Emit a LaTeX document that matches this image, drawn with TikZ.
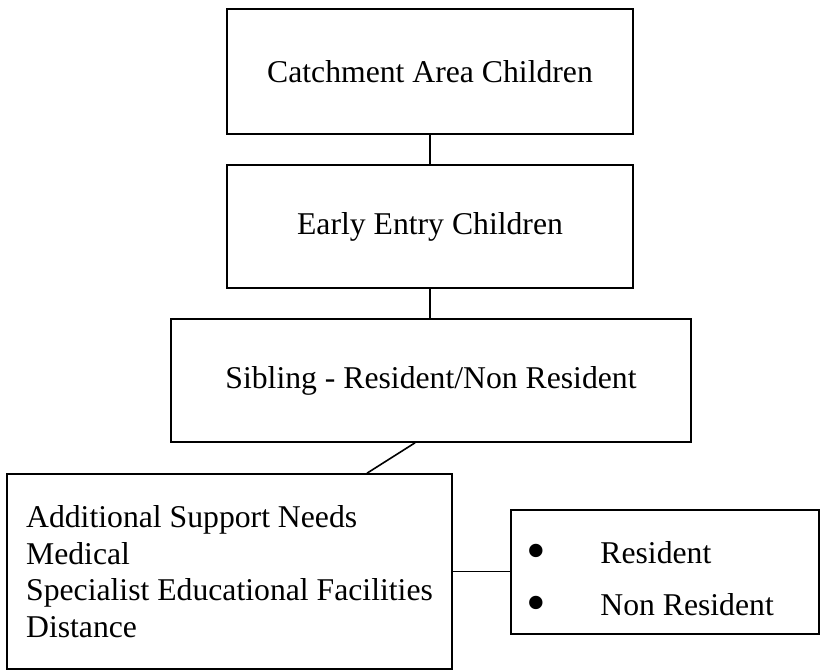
\documentclass[tikz,border=0pt]{standalone}
\usepackage{fontspec}
\setmainfont{Liberation Serif}
\tikzset{
  box/.style={draw,line width=1.6pt,inner sep=0pt,align=center},
  link/.style={line width=1.6pt}
}
\newcommand{\bigdot}{\makebox[74pt][l]{\raisebox{-6pt}{\fontsize{56}{39}\selectfont\textbullet}}}
\begin{document}
\begin{tikzpicture}[x=1pt,y=-1pt,font=\fontsize{31.7}{39}\selectfont]
\useasboundingbox (0,0) rectangle (820,670);
\node[box,minimum width=406pt,minimum height=125pt] (catch) at (430,71.5) {Catchment Area Children};
\node[box,minimum width=406pt,minimum height=123pt] (early) at (430,226.5) {Early Entry Children};
\node[box,minimum width=520pt,minimum height=123pt] (sib) at (431,380.5) {Sibling - Resident/Non Resident};
\node[box,minimum width=445pt,minimum height=195pt,align=left,font=\fontsize{31.7}{36.7}\selectfont] (need) at (229.5,571.5)
  {Additional Support Needs\\Medical\\Specialist Educational Facilities\\Distance};
\node[box,minimum width=308pt,minimum height=124pt] (res) at (665,572) {};
\node[anchor=west,align=left,inner sep=0pt] (reslist) at ([xshift=16pt,yshift=-9.5pt]res.west)
  {\bigdot Resident\\[13pt]\bigdot Non Resident};
% connectors
\draw[link] (catch) -- (early);
\draw[link] (early.south) -- (early.south |- sib.north);
\draw[link] ([xshift=-16pt]sib.south) -- ([xshift=137.5pt]need.north);
\draw[link] (need.east) -- (need.east -| res.west);
\end{tikzpicture}
\end{document}
